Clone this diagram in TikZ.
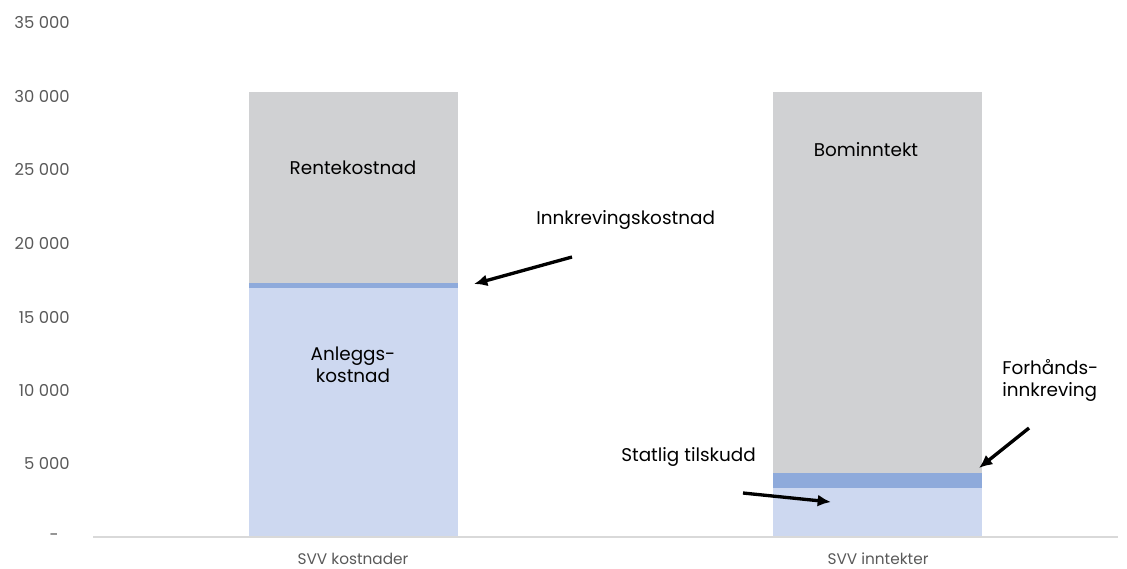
\documentclass[tikz,border=0pt]{standalone}
\usepackage{fontspec}
\setmainfont{Poppins}
\usetikzlibrary{arrows.meta,positioning}

\definecolor{barlight}{HTML}{CDD8F0}
\definecolor{barmid}{HTML}{8EAADB}
\definecolor{bargrey}{HTML}{D0D1D3}
\definecolor{axisgrey}{HTML}{D9D9D9}
\definecolor{ticktext}{HTML}{595959}

\tikzset{
  ticklab/.style={anchor=east, text=ticktext, font=\fontsize{12.3}{14}\selectfont, inner sep=0pt},
  catlab/.style={text=ticktext, font=\fontsize{11.5}{13}\selectfont, inner sep=0pt},
  barlab/.style={font=\fontsize{13.8}{16.5}\selectfont, inner sep=0pt, align=center},
  pointer/.style={-{Latex[length=10pt,width=9pt]}, line width=2.5pt, black}
}

\begin{document}
\begin{tikzpicture}[x=0.75pt,y=-0.75pt]
\useasboundingbox (0,0) rectangle (1127,568);
% y axis labels
\foreach \v/\y in {35 000/22, 30 000/96, 25 000/169, 20 000/243, 15 000/317, 10 000/390, 5 000/463}
  \node[ticklab] at (70,\y) {\v};
\node[ticklab] (zero) at (59,537) {-};
% bars
\fill[barlight] (249,537) rectangle (458,288);
\fill[barmid] (249,288) rectangle (458,283);
\fill[bargrey] (249,283) rectangle (458,92);
\fill[barlight] (773,537) rectangle (982,488);
\fill[barmid] (773,488) rectangle (982,473);
\fill[bargrey] (773,473) rectangle (982,92);
% axis
\draw[axisgrey, line width=1.5pt] (93,537) -- (1118,537);
\node[catlab] (kost) at (353,559) {SVV kostnader};
\node[catlab] (innt) at (878,559) {SVV inntekter};
% labels in bars
\node[barlab] (rente) at (353,168) {Rentekostnad};
\node[barlab] (anlegg) at (353,365) {Anleggs-\\kostnad};
\node[barlab] (bom) at (866,150) {Bominntekt};
% labels outside
\node[barlab, anchor=west] (innkr) at (536,220) {Innkrevingskostnad};
\node[barlab, anchor=west] (statlig) at (621,457) {Statlig tilskudd};
\node[barlab, anchor=west, align=left] (forh) at (1002,380) {Forhånds-\\innkreving};
% arrows
\coordinate (innkrA) at (572,257);
\coordinate (innkrB) at (474,284);
\coordinate (statA) at (743,493);
\coordinate (statB) at (831,502);
\coordinate (forhA) at (1029,428);
\coordinate (forhB) at (979,468);
\draw[pointer] (innkrA) -- (innkrB);
\draw[pointer] (statA) -- (statB);
\draw[pointer] (forhA) -- (forhB);
\end{tikzpicture}
\end{document}
